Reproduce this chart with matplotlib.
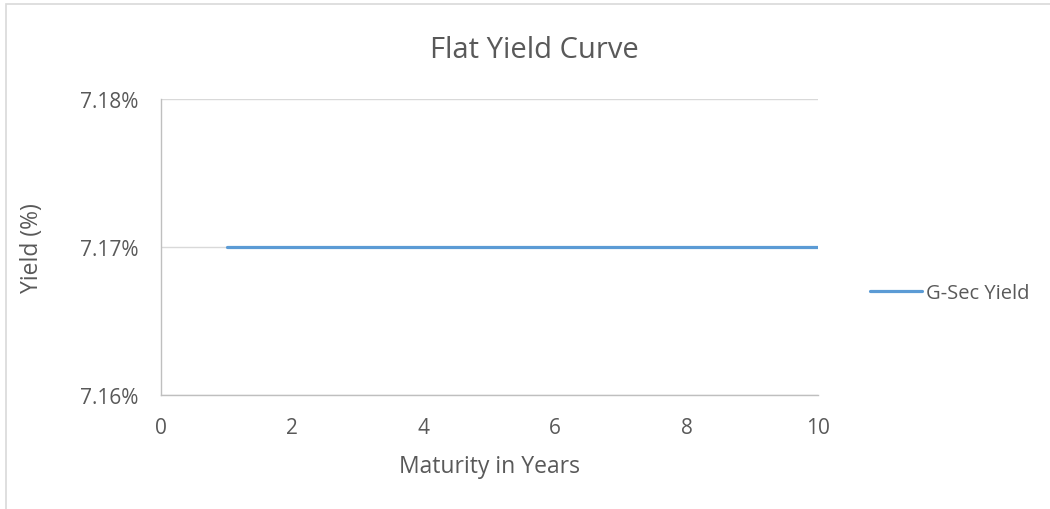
import numpy as np
import matplotlib.pyplot as plt
from matplotlib.ticker import FuncFormatter
from matplotlib.patches import Rectangle

# data
maturity = [1, 2, 3, 4, 5, 6, 7, 8, 9, 10]
gsec_yield = [7.17, 7.17, 7.17, 7.17, 7.17, 7.17, 7.17, 7.17, 7.17, 7.17]

text_color = '#595959'
grid_color = '#d9d9d9'
plt.rcParams['font.family'] = ['Open Sans', 'DejaVu Sans']

fig = plt.figure(figsize=(10.5, 5.1), dpi=100)
ax = fig.add_axes([161/1050, 1 - 396/510, (818 - 161)/1050, (396 - 100)/510])

ax.plot(maturity, gsec_yield, color='#5b9bd5', linewidth=2.3, label='G-Sec Yield',
        solid_capstyle='round')

ax.set_xlim(0, 10)
ax.set_ylim(7.16, 7.18)
ax.set_xticks([0, 2, 4, 6, 8, 10])
ax.set_yticks([7.16, 7.17, 7.18])
ax.yaxis.set_major_formatter(FuncFormatter(lambda v, p: f'{v:.2f}%'))
ax.tick_params(length=0, labelsize=15, colors=text_color)
ax.tick_params(axis='y', pad=16)
ax.tick_params(axis='x', pad=16)
ax.grid(axis='y', color=grid_color, linewidth=1)
ax.set_axisbelow(True)
for s in ['top', 'right']:
    ax.spines[s].set_visible(False)
for s in ['left', 'bottom']:
    ax.spines[s].set_color('#bfbfbf')
    ax.spines[s].set_linewidth(1)

# title is centred on the whole chart, not the plot area
ax.set_title('Flat Yield Curve', fontsize=21, color=text_color, pad=30, x=0.568)
ax.set_xlabel('Maturity in Years', fontsize=16.5, color=text_color)
ax.set_ylabel('Yield (%)', fontsize=16.5, color=text_color)
ax.xaxis.set_label_coords(0.5, -0.2)
ax.yaxis.set_label_coords(-0.178, 0.5)

leg = ax.legend(loc='center left', bbox_to_anchor=(1.079, 0.343), frameon=False,
                borderaxespad=0, borderpad=0, fontsize=14.5, labelcolor=text_color,
                handlelength=2.6, handletextpad=0.2)

# chart border (left and top edges visible)
fig.patches.append(Rectangle((6/1050, -0.1), 1.2, 1 - 5/510 + 0.1, transform=fig.transFigure,
                             fill=False, edgecolor='#d9d9d9', linewidth=1.2))

fig.savefig('out.png', dpi=100)
